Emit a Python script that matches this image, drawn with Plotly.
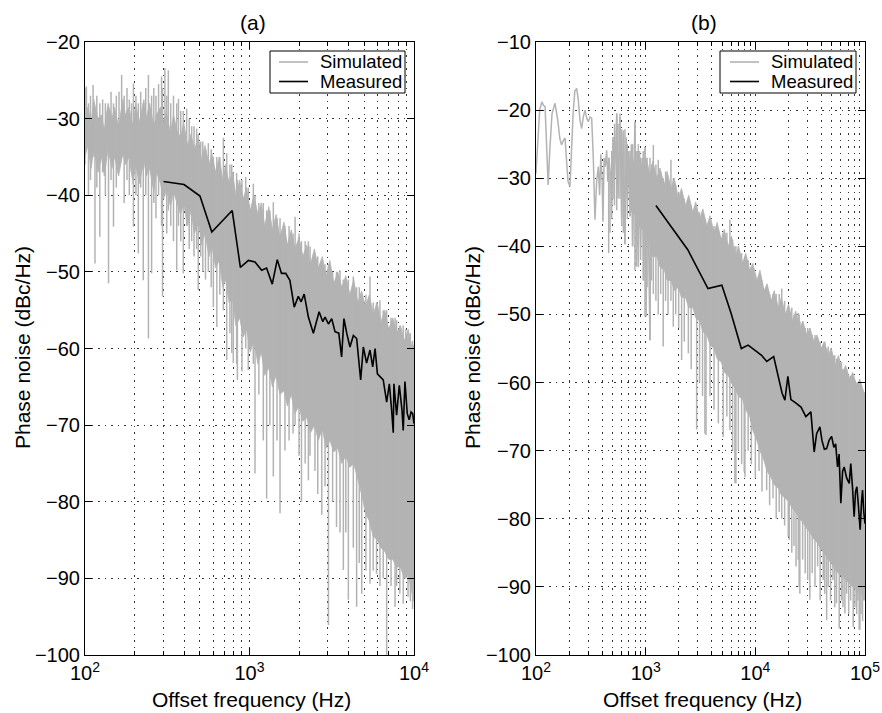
import plotly.graph_objects as go

W, H = 882, 713
GRAY = "#b3b3b3"
FONT = "Liberation Sans, Arial, Helvetica, sans-serif"

# ---------------- Panel (a) ----------------
a_band_f = [100, 104, 109, 113, 120, 126, 131, 138, 146, 151,
            160, 170, 176, 185, 196, 203, 214, 228, 236, 247,
            262, 272, 288, 301, 312, 331, 345, 362, 381, 398,
            420, 441, 462, 490, 512, 536, 568, 590, 622, 655,
            688, 715, 752, 788, 826, 872, 915, 960, 1010, 1063,
            1125, 1180, 1238, 1310, 1378, 1452, 1530, 1620, 1700, 1795,
            1890, 2000, 2110, 2230, 2350, 2480, 2620, 2770, 2920, 3080,
            3260, 3440, 3640, 3850, 4070, 4300, 4550, 4800, 5070, 5350,
            5650, 5970, 6300, 6650, 7020, 7420, 7830, 8270, 8730, 9220,
            9740, 10000]
a_band_hi = [-31, -28.5, -30.5, -27.5, -30, -29.5, -31.5, -28, -30, -28.5,
             -31, -27.5, -29.5, -28.5, -31, -28, -30.5, -27.5, -30, -28,
             -31, -29.5, -28.5, -30.5, -29, -32, -29.5, -31.5, -32.5, -30.5,
             -33.5, -32, -34, -32.5, -35.5, -33.5, -36, -34.5, -37, -35,
             -38, -36, -38.5, -37, -40, -38, -40.5, -39, -42, -40,
             -42.5, -41, -44, -41.5, -44.5, -42.5, -45.5, -43.5, -46.5, -44.5,
             -47, -45.5, -48, -46.5, -49, -47, -49.5, -48, -50.5, -48.5,
             -51.5, -50, -52, -50.5, -53, -51, -54, -52.5, -54.5, -53,
             -55.5, -54, -56.5, -55, -57.5, -56, -58, -57, -59, -57.5,
             -60, -59.5]
a_band_lo = [-35, -33.5, -36.5, -34, -37, -35, -37.5, -34, -36.5, -35,
             -37.5, -34.5, -36, -35, -38.5, -36, -38.5, -35.5, -37.5, -36.5,
             -39.5, -37, -38.5, -40.5, -39, -41.5, -39.5, -41, -42.5, -41,
             -44, -42, -45, -43.5, -46.5, -45, -48, -46.5, -49.5, -48.5,
             -52, -51, -54, -53.5, -57, -56, -58.5, -57.5, -60.5, -59,
             -62, -60.5, -63.5, -62.5, -65, -63.5, -66, -65.5, -67.5, -66,
             -68.5, -67.5, -69.5, -69, -71, -70, -72, -70.5, -73, -72,
             -73.5, -73, -75, -74, -75.5, -75, -77, -79, -81.5, -82.5,
             -84.5, -85, -86, -86.5, -87.5, -87.5, -88.5, -88.5, -90, -89.5,
             -92, -93]

a_spike_f = [100, 102, 105, 108, 112, 115, 118, 123, 128, 133, 139, 144, 149, 155, 161, 167, 173, 180, 186, 192,
             197, 204, 211, 218, 226, 234, 243, 254, 262, 270, 280, 292, 296, 306, 314, 321, 332, 345, 361, 370,
             382, 396, 415, 430, 445, 460, 477, 488, 505, 520, 540, 562, 585, 603, 633, 660, 694, 727, 760, 780,
             797, 835, 844, 900, 948, 983, 1055, 1080, 1140, 1213, 1271, 1330, 1396, 1470, 1533, 1643, 1740, 1840, 1893, 2000,
             2070, 2180, 2280, 2334, 2500, 2600, 2750, 2880, 3020, 3200, 3380, 3550, 3720, 3850, 3990, 4277, 4480, 4650, 4810, 5100,
             5400, 5650, 5920, 6210, 6500, 6820, 7250, 7670, 7840, 8200, 8600, 8900, 9200, 9500, 9800]
a_spike_top = [-26, -25.8, -28, -27, -25.6, -30, -27, -28, -27.5, -28, -29, -26.5, -28, -27, -26.5, -24.3, -27, -26, -27.5, -28,
               -25.4, -27, -28, -26.5, -28, -26, -24.3, -27, -26, -27, -25.5, -24.5, -26, -23.4, -27, -23.7, -28, -27, -28, -27.4,
               -29, -29, -28.7, -30, -31, -31, -31.3, -32, -33, -33, -34, -33.2, -34, -35, -35, -35, -32.5, -34.5, -36, -36,
               -37, -37.1, -38, -38, -37.6, -39, -38.5, -40, -41, -41, -42, -42, -40.9, -43, -43, -44, -44, -45, -42.8, -45,
               -46, -46, -46, -46.7, -48, -48, -48.5, -49, -49, -50, -50, -49.8, -51, -51, -51, -50.6, -52, -52, -53, -53,
               -50.6, -54, -54, -53.7, -55, -55, -56, -56, -56.3, -57, -57, -57.5, -58, -58, -59]
a_spike_bot = [-36, -34, -40, -38, -35, -48.9, -39, -45.4, -37, -40, -51.5, -38, -44.1, -39, -36, -35, -41, -38, -40, -37,
               -44.1, -40, -47.6, -39, -51.1, -40, -58.7, -50.2, -41, -43, -40, -44, -53.2, -40, -45, -42, -44, -46, -49.8, -44,
               -46, -50.2, -44, -47, -46, -48, -47, -52.4, -48, -50, -51, -50, -52, -54.6, -57.2, -53, -55, -61.5, -58, -60.6,
               -61.9, -62, -64.1, -63, -60, -62.8, -62, -76.3, -66, -72, -79.6, -70, -76.7, -72, -81.5, -73.3, -72, -71.1, -70, -74,
               -80, -75, -77.2, -74, -76, -79, -81.7, -78, -96.1, -80, -83.3, -84, -88.9, -84, -92.8, -86, -93.7, -88, -92, -89,
               -90.7, -89, -89.4, -91, -90, -100, -91, -93.7, -91, -92, -93.3, -90, -92.4, -93, -94]

a_meas_f = [300, 400, 500, 590, 785, 880, 985, 1080, 1185, 1270, 1375, 1475, 1565, 1660, 1760, 1870, 1980, 2060, 2150, 2280,
            2445, 2650, 2790, 2880, 3020, 3160, 3310, 3490, 3630, 3750, 3900, 4080, 4280, 4480, 4740, 4920, 5150, 5400, 5610, 5800,
            5990, 6210, 6500, 6820, 7080, 7310, 7480, 7550, 7840, 8140, 8450, 8600, 8810, 9100, 9350, 9600, 9820, 10000]
a_meas_db = [-38.2, -38.6, -40.1, -44.8, -42.0, -49.4, -48.5, -48.7, -49.8, -49.5, -51.6, -48.4, -50.2, -50.2, -51.1, -54.6, -53.2, -53.9, -52.9, -55.9,
             -58.0, -55.2, -56.5, -55.9, -56.8, -56.1, -57.8, -58.0, -61.1, -56.1, -58.0, -59.8, -58.3, -58.7, -64.1, -59.8, -61.9, -60.2, -62.4, -60.0,
             -63.3, -63.7, -64.1, -67.0, -64.6, -68.0, -71.0, -64.6, -68.7, -64.8, -68.0, -70.7, -64.3, -68.5, -69.3, -68.3, -68.5, -69.8]

# ---------------- Panel (b) ----------------
b_line_f = [100, 104, 108, 113, 117, 121, 125, 129, 134, 140, 149, 158, 165, 171, 177, 184, 190, 196, 204, 210,
            218, 226, 235, 243, 252, 261, 270, 280, 290, 300, 311, 322, 333, 345, 357, 370, 380, 390, 400, 408,
            418, 428, 441, 452, 462, 473, 490, 505, 520, 545, 560, 583, 604, 625, 647, 665, 680, 700, 720, 740,
            760, 798, 820, 840, 857, 880, 900, 930, 960, 986, 1010, 1040, 1070, 1094, 1120]
b_line_db = [-29.3, -23.5, -20.0, -18.8, -19.3, -19.5, -24.5, -31.0, -25.5, -20.5, -19.0, -21.5, -24.2, -25.1, -24.5, -24.1, -27.5, -30.5, -31.2, -26.5,
             -20.5, -17.2, -16.8, -18.5, -21.5, -22.7, -21.0, -20.0, -21.2, -21.7, -21.0, -21.2, -27.0, -36.1, -30.5, -28.3, -32.5, -26.5, -30.0, -36.4,
             -27.0, -28.3, -25.9, -30.5, -27.0, -28.8, -34.0, -24.0, -30.0, -20.5, -33.0, -21.0, -36.0, -23.0, -39.7, -24.0, -33.0, -26.0, -35.6, -25.0,
             -40.0, -21.7, -43.0, -26.0, -43.0, -26.0, -40.0, -27.0, -45.0, -25.4, -50.3, -28.0, -45.0, -53.8, -30.0]

b_band_f = [700, 745, 812, 866, 945, 1005, 1095, 1160, 1265, 1350,
            1480, 1570, 1710, 1820, 1990, 2120, 2310, 2470, 2690, 2860,
            3120, 3320, 3620, 3860, 4210, 4480, 4890, 5210, 5680, 6050,
            6600, 7030, 7670, 8170, 8900, 9490, 10340, 11020, 12020, 12800,
            13960, 14870, 16210, 17260, 18830, 20060, 21880, 23300, 25410, 27060,
            29510, 31440, 34290, 36520, 39830, 42420, 46270, 49290, 53750, 57260,
            62440, 66500, 72520, 77250, 84240, 89740, 97860, 100000]
b_band_hi = [-28, -26.5, -29, -27, -28.5, -27, -29.5, -27.5, -30, -28.5,
             -31, -29, -31.5, -30, -33, -31.5, -34, -32.5, -35, -33.5,
             -36, -34.5, -37, -35.5, -38, -36.5, -39, -37.5, -40, -38.5,
             -41.5, -40, -42.5, -41, -43.5, -42.5, -45, -43.5, -46.5, -45.5,
             -48, -46.5, -49, -47.5, -50, -48.5, -51, -49.5, -52, -51,
             -53, -52, -54, -53, -55, -54, -56, -55, -57.5, -56,
             -58.5, -57.5, -59.5, -58.5, -60.5, -59.5, -61.5, -61.5]
b_band_lo = [-33, -35, -35.5, -37, -37.5, -39, -39.5, -41.5, -41.5, -43,
             -43.5, -45, -45, -46.5, -46, -47.5, -47.5, -49, -49, -50.5,
             -51, -52.5, -53, -54.5, -55, -56.5, -57, -58.5, -59, -60,
             -61, -62, -62.5, -64, -65, -67, -68.5, -70, -71.5, -73,
             -74, -75, -75.5, -76.5, -77, -77.5, -78.5, -79, -80, -80.5,
             -81.5, -82, -83, -83.5, -84.5, -85, -86, -86.5, -87.5, -88,
             -88.5, -89, -89.5, -90, -90.5, -91, -91.5, -92]

b_spike_f = [460, 473, 490, 505, 520, 545, 560, 583, 604, 625, 647, 680, 720, 760, 798, 830, 857, 900, 950, 986,
             1030, 1094, 1130, 1175, 1240, 1303, 1370, 1446, 1520, 1600, 1700, 1786, 1880, 2000, 2128, 2250, 2450, 2600, 2917, 3100,
             3300, 3470, 3550, 3860, 4200, 4600, 5090, 5500, 5860, 6200, 6510, 6650, 7000, 7500, 7920, 8040, 8600, 9200, 10000, 10800,
             11500, 12680, 13500, 14500, 15500, 16500, 17400, 18500, 19960, 20400, 21500, 22500, 23500, 24600, 25100, 25470, 27000, 28500, 30000, 31400,
             33000, 35000, 37000, 39000, 41600, 43000, 44700, 46200, 48500, 51000, 53000, 55000, 58200, 61000, 63000, 65600, 68000, 71000, 74000, 78100,
             81000, 84000, 86000, 88500, 89900, 92000, 95000, 97500]
b_spike_top = [-27, -29, -26, -24, -22, -20.5, -22, -20.5, -22.8, -24, -22.8, -25, -26, -25, -21.7, -26, -25, -27, -26, -25.4,
               -27, -27, -28, -25.1, -28, -27.3, -29, -30, -29, -30, -27.3, -30, -31, -32, -32, -33, -33, -34, -34.9, -35,
               -36, -36, -37, -36, -37, -38, -38, -38, -36.1, -39, -40, -40, -40, -41, -42, -42, -42, -43, -44, -45,
               -45, -46, -47, -47, -47, -47, -46.2, -48, -48.8, -49, -49, -50, -50, -49.8, -50, -51, -51, -52, -52, -52,
               -53, -53, -53.5, -54, -54.5, -54, -55, -54.7, -55, -56, -56, -56.5, -57, -57, -58, -58, -58, -59, -59, -59.5,
               -60, -60, -60, -60.5, -60.5, -61, -61, -61.5]
b_spike_bot = [-41, -38, -36, -33, -34, -34.7, -31, -33, -37, -38, -39.7, -36, -35.6, -40, -43.5, -40, -43, -42, -45, -50.3,
               -46, -53.8, -45, -47, -48, -50, -47, -54.7, -48, -50, -48, -51.8, -50, -52, -56.7, -54, -55.7, -58, -66.9, -60,
               -62, -67.5, -67.7, -62, -64, -66, -68, -65, -67, -70, -74.8, -74.8, -70, -72, -73.1, -73.9, -70, -72, -74, -73,
               -76, -75.8, -78, -77, -80, -79, -80, -81, -82.6, -83.1, -85, -84, -87, -86, -90, -91, -86, -88, -89, -91.9,
               -88, -90, -87, -92, -89, -91, -94.9, -90, -92, -89, -93, -92.4, -96.1, -92, -93, -93.9, -91, -94, -92, -95.9,
               -93, -94, -92, -96.3, -96.3, -94, -95, -92]

b_meas_f = [1240, 2420, 3700, 4950, 6000, 7450, 8600, 10300, 11400, 12700, 14700, 17500, 18600, 19800, 21100, 23000,
            26100, 28900, 30400, 32100, 34400, 36200, 38800, 40500, 42600, 44700, 47000, 49600, 52000, 54000, 56200, 58000,
            60200, 62500, 64600, 68000, 71800, 74200, 77000, 79600, 82000, 84300, 87000, 90300, 93000, 95000, 97500, 100000]
b_meas_db = [-34.0, -40.5, -46.2, -45.7, -49.8, -55.0, -54.5, -55.5, -56.0, -56.9, -56.2, -61.5, -62.6, -59.1, -62.5, -62.9,
             -63.6, -65.0, -64.6, -64.3, -70.2, -67.5, -66.5, -68.5, -69.8, -69.7, -68.5, -67.9, -69.5, -69.0, -72.4, -70.5,
             -77.7, -73.0, -72.4, -74.0, -74.8, -71.9, -75.5, -79.7, -76.0, -75.3, -78.0, -81.6, -77.5, -75.8, -79.0, -80.7]

# tick labels and legend labels
a_xtick_vals = [100, 1000, 10000]
a_xtick_text = ["10<sup>2</sup>", "10<sup>3</sup>", "10<sup>4</sup>"]
b_xtick_vals = [100, 1000, 10000, 100000]
b_xtick_text = ["10<sup>2</sup>", "10<sup>3</sup>", "10<sup>4</sup>", "10<sup>5</sup>"]
legend_labels = ["Simulated", "Measured"]
legend_colors = [GRAY, "black"]

for name, grp in [("a_band", (a_band_f, a_band_hi, a_band_lo)),
                  ("a_spike", (a_spike_f, a_spike_top, a_spike_bot)),
                  ("a_meas", (a_meas_f, a_meas_db)),
                  ("b_line", (b_line_f, b_line_db)),
                  ("b_band", (b_band_f, b_band_hi, b_band_lo)),
                  ("b_spike", (b_spike_f, b_spike_top, b_spike_bot)),
                  ("b_meas", (b_meas_f, b_meas_db))]:
    n = {len(g) for g in grp}
    assert len(n) == 1, (name, [len(g) for g in grp])


def segs(fs, tops, bots):
    xs, ys = [], []
    for f, t, b in zip(fs, tops, bots):
        xs += [f, f, None]
        ys += [t, b, None]
    return xs, ys


fig = go.Figure()


def add_panel(xa, ya, band, spikes, meas, line=None):
    bf, bh, bl = band
    fig.add_trace(go.Scatter(x=bf + bf[::-1], y=bh + bl[::-1], fill="toself", fillcolor=GRAY,
                             mode="lines", line=dict(width=0.8, color=GRAY), hoverinfo="skip",
                             name="Simulated", showlegend=False, xaxis=xa, yaxis=ya))
    sx, sy = segs(*spikes)
    fig.add_trace(go.Scatter(x=sx, y=sy, mode="lines", line=dict(color=GRAY, width=1.5),
                             name="Simulated", showlegend=False, xaxis=xa, yaxis=ya))
    if line is not None:
        fig.add_trace(go.Scatter(x=line[0], y=line[1], mode="lines", line=dict(color=GRAY, width=1.5),
                                 name="Simulated", showlegend=False, xaxis=xa, yaxis=ya))
    fig.add_trace(go.Scatter(x=meas[0], y=meas[1], mode="lines", line=dict(color="black", width=1.6),
                             name="Measured", showlegend=False, xaxis=xa, yaxis=ya))


add_panel("x", "y", (a_band_f, a_band_hi, a_band_lo),
          (a_spike_f, a_spike_top, a_spike_bot), (a_meas_f, a_meas_db))
add_panel("x2", "y2", (b_band_f, b_band_hi, b_band_lo),
          (b_spike_f, b_spike_top, b_spike_bot), (b_meas_f, b_meas_db),
          line=(b_line_f, b_line_db))

GRID_DASH = "1.5px,5px"
GRID_COLOR = "#333333"


def xaxis_cfg(dom, rng, tv, tt, anchor, decades):
    minor_vals = [m * 10 ** e for e in decades for m in range(2, 10)]
    return dict(type="log", domain=dom, range=rng, anchor=anchor,
                tickmode="array", tickvals=tv, ticktext=tt,
                ticks="inside", ticklen=7, tickwidth=1, tickcolor="black",
                showline=True, linecolor="black", linewidth=1, mirror="allticks",
                showgrid=True, gridcolor=GRID_COLOR, griddash=GRID_DASH, gridwidth=1,
                zeroline=False, automargin=False,
                tickfont=dict(size=20, color="black", family=FONT),
                minor=dict(tickmode="array", tickvals=minor_vals, ticks="inside", ticklen=4,
                           tickcolor="black", showgrid=True, gridcolor=GRID_COLOR,
                           griddash=GRID_DASH, gridwidth=1))


def yaxis_cfg(dom, rng, anchor):
    return dict(domain=dom, range=rng, anchor=anchor, tickmode="linear", tick0=0, dtick=10,
                ticks="inside", ticklen=7, tickwidth=1, tickcolor="black",
                showline=True, linecolor="black", linewidth=1, mirror="allticks",
                showgrid=True, gridcolor=GRID_COLOR, griddash=GRID_DASH, gridwidth=1,
                zeroline=False, automargin=False,
                tickfont=dict(size=20, color="black", family=FONT))


def px_x(p):
    return p / W


def px_y(p):
    return 1 - p / H


ydom = [px_y(655), px_y(42)]
fig.update_layout(
    width=W, height=H, template="none",
    margin=dict(l=0, r=0, t=0, b=0),
    paper_bgcolor="white", plot_bgcolor="white",
    font=dict(family=FONT, size=20, color="black"),
    xaxis=xaxis_cfg([px_x(85), px_x(414)], [2, 4], a_xtick_vals, a_xtick_text, "y", [2, 3]),
    yaxis=yaxis_cfg(ydom, [-100, -20], "x"),
    xaxis2=xaxis_cfg([px_x(536), px_x(865)], [2, 5], b_xtick_vals, b_xtick_text, "y2", [2, 3, 4]),
    yaxis2=yaxis_cfg(ydom, [-100, -10], "x2"),
    showlegend=False,
)

# legend boxes (drawn in pixel positions of the reference)
for (bx0, bx1, lx0, lx1, tx) in [(270, 405, 279, 308, 318), (720, 856, 730, 759, 769)]:
    fig.add_shape(type="rect", xref="paper", yref="paper", x0=px_x(bx0), x1=px_x(bx1),
                  y0=px_y(93), y1=px_y(51), line=dict(color="black", width=1), fillcolor="white",
                  layer="above")
    for row_y, lab, col in zip([62, 81.5], legend_labels, legend_colors):
        fig.add_shape(type="line", xref="paper", yref="paper", x0=px_x(lx0), x1=px_x(lx1),
                      y0=px_y(row_y), y1=px_y(row_y), line=dict(color=col, width=1.6), layer="above")
        fig.add_annotation(text=lab, x=px_x(tx), y=px_y(row_y), xref="paper", yref="paper",
                           xanchor="left", yanchor="middle", showarrow=False,
                           font=dict(size=18.5, family=FONT, color="black"))

annots = [
    ("(a)", 253, 23, 0),
    ("(b)", 704, 23, 0),
    ("Offset frequency (Hz)", 251, 699, 0),
    ("Offset frequency (Hz)", 702, 699, 0),
    ("Phase noise (dBc/Hz)", 22, 348, -90),
    ("Phase noise (dBc/Hz)", 472, 348, -90),
]
for txt, x, y, ang in annots:
    fig.add_annotation(text=txt, x=px_x(x), y=px_y(y), xref="paper", yref="paper",
                       xanchor="center", yanchor="middle", showarrow=False, textangle=ang,
                       font=dict(size=21, family=FONT, color="black"))

fig.write_html("out.html", config={"displayModeBar": False},
               post_script="document.body.style.margin='0px';document.body.style.overflow='hidden';")
